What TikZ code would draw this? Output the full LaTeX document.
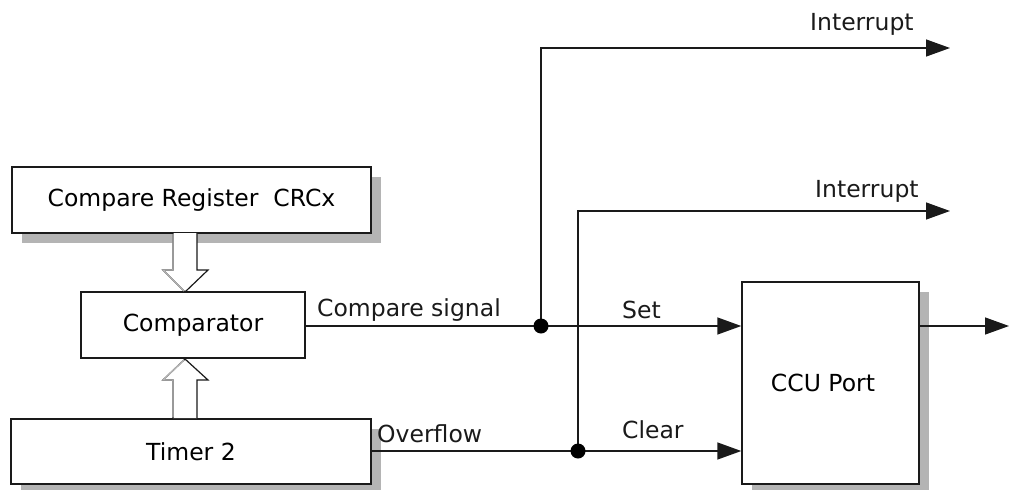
\documentclass[tikz,border=0pt]{standalone}
\usepackage{fontspec}
\setmainfont{DejaVu Sans}
\usetikzlibrary{arrows.meta,shadows}
\definecolor{shadowgray}{HTML}{B4B4B4}
\definecolor{ink}{HTML}{1A1A1A}
\begin{document}
\begin{tikzpicture}[x=1pt,y=-1pt,
  font=\fontsize{23.5}{28}\selectfont,
  blockbox/.style={draw=ink,line width=1.4pt,fill=white,inner sep=0pt,minimum width=#1},
  shadowed/.style={drop shadow={shadow xshift=10pt,shadow yshift=-10pt,fill=shadowgray,opacity=1}},
  sig/.style={draw=ink,line width=1.4pt},
  tip/.style={-{Triangle[length=24pt,width=17pt]}},
  lbl/.style={anchor=base west,inner sep=0pt,text=ink},
  junction/.style={fill=black}]
\useasboundingbox (0,0) rectangle (1010,490);
% boxes
\node[blockbox=359pt,minimum height=66pt,shadowed] (crc) at (191.5,200) {Compare Register~~CRCx};
\node[blockbox=224pt,minimum height=66pt] (cmp) at (193,325) {Comparator};
\node[blockbox=360pt,minimum height=65pt,shadowed] (tmr) at (191,451.5) {Timer 2};
\node[blockbox=177pt,minimum height=202pt,shadowed] (ccu) at (830.5,383) {};
\node[inner sep=0pt] (ccutxt) at (823,383) {CCU Port};
% block arrows
\filldraw[fill=white,draw=ink,line width=1.2pt]
  (173,233) -- (173,270) -- (163,270) -- (185,292) -- (208,270) -- (197,270) -- (197,233);
\draw[shadowgray,line width=1.4pt] (173,234) -- (173,270) -- (163,270) -- (184,291);
\filldraw[fill=white,draw=ink,line width=1.2pt]
  (173,418) -- (173,380) -- (163,380) -- (185,359) -- (208,380) -- (197,380) -- (197,418);
\draw[shadowgray,line width=1.4pt] (173,417) -- (173,380) -- (163,380) -- (184,360);
% coordinates
\coordinate (j1) at (541,326);
\coordinate (j2) at (578,451);
\coordinate (int1) at (950,48);
\coordinate (int2) at (950,211);
\coordinate (out) at (1009,326);
% signals
\draw[sig,tip] (cmp.east |- j1) -- (ccu.west |- j1);
\draw[sig,tip] (tmr.east |- j2) -- (ccu.west |- j2);
\draw[sig,tip] (j1) |- (int1);
\draw[sig,tip] (j2) |- (int2);
\draw[sig,tip] (ccu.east |- out) -- (out);
\fill[junction] (j1) circle (7.5pt);
\fill[junction] (j2) circle (7.5pt);
% labels
\node[lbl] (lcs) at (317,316) {Compare signal};
\node[lbl] (lov) at (377,442) {Overflow};
\node[lbl] (lset) at (622,318) {Set};
\node[lbl] (lclr) at (622,438) {Clear};
\node[lbl] (li1) at (810,30) {Interrupt};
\node[lbl] (li2) at (815,197) {Interrupt};
\end{tikzpicture}
\end{document}
